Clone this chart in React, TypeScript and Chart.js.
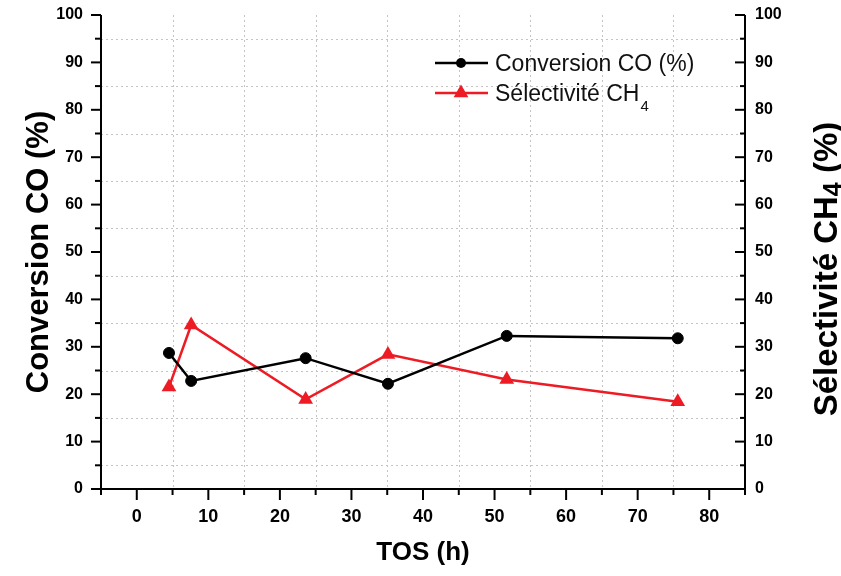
import React, { useEffect, useRef } from "react";
import { Chart, registerables } from "chart.js";

Chart.register(...registerables);

// ---- data ----
const tosHours = [4.5, 7.6, 23.6, 35.1, 51.7, 75.6];
const conversionCO = [28.7, 22.8, 27.6, 22.2, 32.3, 31.8];
const selectiviteCH4 = [21.5, 34.6, 18.9, 28.4, 23.1, 18.4];

const xTickValues = [0, 10, 20, 30, 40, 50, 60, 70, 80];
const xMinorValues = [-5, 5, 15, 25, 35, 45, 55, 65, 75, 85];
const yTickValues = [0, 10, 20, 30, 40, 50, 60, 70, 80, 90, 100];
const yMinorValues = [5, 15, 25, 35, 45, 55, 65, 75, 85, 95];

const seriesNames = ["Conversion CO (%)", "Sélectivité CH"];
const subscript = "4";
const xTitle = "TOS (h)";
const yTitle = "Conversion CO (%)";
const y1TitleMain = "Sélectivité CH";
const y1TitleEnd = " (%)";

const RED = "#ed1c24";
const BLACK = "#000000";
const FONT = "'Liberation Sans', Arial, Helvetica, sans-serif";

const framePlugin = {
  id: "frame",
  beforeDatasetsDraw(chart: any) {
    const { ctx, chartArea: a, scales } = chart;
    const x = scales.x;
    const y = scales.y;
    ctx.save();
    ctx.strokeStyle = "#c4c4c4";
    ctx.lineWidth = 1;
    ctx.setLineDash([2, 3]);
    xMinorValues.forEach((v) => {
      if (v <= x.min || v >= x.max) return;
      const px = Math.round(x.getPixelForValue(v)) + 0.5;
      ctx.beginPath();
      ctx.moveTo(px, a.top);
      ctx.lineTo(px, a.bottom);
      ctx.stroke();
    });
    yMinorValues.forEach((v) => {
      const py = Math.round(y.getPixelForValue(v)) + 0.5;
      ctx.beginPath();
      ctx.moveTo(a.left, py);
      ctx.lineTo(a.right, py);
      ctx.stroke();
    });
    ctx.restore();
  },
  afterDraw(chart: any) {
    const { ctx, chartArea: a, scales } = chart;
    const x = scales.x;
    const y = scales.y;
    const y1 = scales.y1;
    ctx.save();
    ctx.strokeStyle = BLACK;
    ctx.lineWidth = 2;
    ctx.setLineDash([]);
    const seg = (x1: number, yA: number, x2: number, yB: number) => {
      ctx.beginPath();
      ctx.moveTo(x1, yA);
      ctx.lineTo(x2, yB);
      ctx.stroke();
    };
    // axis lines
    seg(a.left, a.top, a.left, a.bottom);
    seg(a.right, a.top, a.right, a.bottom);
    seg(a.left, a.bottom, a.right, a.bottom);
    // x ticks
    xTickValues.forEach((v) => {
      const px = x.getPixelForValue(v);
      seg(px, a.bottom, px, a.bottom + 11);
    });
    xMinorValues.forEach((v) => {
      const px = x.getPixelForValue(v);
      seg(px, a.bottom, px, a.bottom + 6);
    });
    // y ticks left (outward), right (inward)
    yTickValues.forEach((v) => {
      const py = y.getPixelForValue(v);
      seg(a.left - 10, py, a.left, py);
      const py1 = y1.getPixelForValue(v);
      seg(a.right - 10, py1, a.right, py1);
    });
    yMinorValues.forEach((v) => {
      const py = y.getPixelForValue(v);
      seg(a.left - 6, py, a.left, py);
      const py1 = y1.getPixelForValue(v);
      seg(a.right - 5, py1, a.right, py1);
    });

    // legend
    const lx = a.left + 334;
    const ly1 = a.top + 48;
    const ly2 = a.top + 78;
    ctx.lineWidth = 2.5;
    ctx.strokeStyle = BLACK;
    seg(lx, ly1, lx + 53, ly1);
    ctx.fillStyle = BLACK;
    ctx.beginPath();
    ctx.arc(lx + 26, ly1, 5, 0, Math.PI * 2);
    ctx.fill();
    ctx.strokeStyle = RED;
    seg(lx, ly2, lx + 53, ly2);
    ctx.fillStyle = RED;
    const r = 8.5;
    ctx.beginPath();
    ctx.moveTo(lx + 26, ly2 - r);
    ctx.lineTo(lx + 26 + r * 0.866, ly2 + r * 0.5);
    ctx.lineTo(lx + 26 - r * 0.866, ly2 + r * 0.5);
    ctx.closePath();
    ctx.fill();

    ctx.fillStyle = "#111";
    ctx.font = `23px ${FONT}`;
    ctx.textAlign = "left";
    ctx.textBaseline = "alphabetic";
    ctx.fillText(seriesNames[0], lx + 60, ly1 + 8);
    ctx.fillText(seriesNames[1], lx + 60, ly2 + 8);
    const w2 = ctx.measureText(seriesNames[1]).width;
    ctx.font = `15px ${FONT}`;
    ctx.fillText(subscript, lx + 60 + w2 + 1, ly2 + 18);

    // right axis title (with subscript)
    const cx = a.right + 83;
    const cy = (a.top + a.bottom) / 2 + 17;
    ctx.translate(cx, cy);
    ctx.rotate(-Math.PI / 2);
    ctx.fillStyle = BLACK;
    ctx.textBaseline = "middle";
    ctx.font = `bold 33px ${FONT}`;
    const wMain = ctx.measureText(y1TitleMain).width;
    const wEnd = ctx.measureText(y1TitleEnd).width;
    ctx.font = `bold 25px ${FONT}`;
    const wSub = ctx.measureText(subscript).width;
    const total = wMain + wSub + wEnd;
    let tx = -total / 2;
    ctx.font = `bold 33px ${FONT}`;
    ctx.fillText(y1TitleMain, tx, 0);
    tx += wMain;
    ctx.font = `bold 25px ${FONT}`;
    ctx.fillText(subscript, tx, 6);
    tx += wSub;
    ctx.font = `bold 33px ${FONT}`;
    ctx.fillText(y1TitleEnd, tx, 0);
    ctx.restore();
  },
};

export default function App() {
  const ref = useRef<HTMLCanvasElement | null>(null);

  useEffect(() => {
    if (!ref.current) return;
    const chart = new Chart(ref.current, {
      type: "line",
      data: {
        datasets: [
          {
            label: seriesNames[0],
            data: tosHours.map((t, i) => ({ x: t, y: conversionCO[i] })),
            borderColor: BLACK,
            backgroundColor: BLACK,
            borderWidth: 2.5,
            pointStyle: "circle",
            pointRadius: 5.5,
            pointBorderWidth: 1,
            yAxisID: "y",
            tension: 0,
          },
          {
            label: seriesNames[1] + subscript,
            data: tosHours.map((t, i) => ({ x: t, y: selectiviteCH4[i] })),
            borderColor: RED,
            backgroundColor: RED,
            borderWidth: 2.5,
            pointStyle: "triangle",
            pointRadius: 8.5,
            pointBorderWidth: 0,
            yAxisID: "y1",
            tension: 0,
          },
        ],
      },
      options: {
        animation: false,
        responsive: false,
        maintainAspectRatio: false,
        layout: { padding: { top: 15, left: 0, right: 0, bottom: 0 } },
        plugins: {
          legend: { display: false },
          tooltip: { enabled: false },
        },
        scales: {
          x: {
            type: "linear",
            position: "bottom",
            min: -5,
            max: 85,
            afterBuildTicks: (s: any) => {
              s.ticks = xTickValues.map((v) => ({ value: v }));
            },
            afterFit: (s: any) => {
              s.height = 87;
              s.paddingLeft = 0;
              s.paddingRight = 0;
            },
            grid: { display: false, drawTicks: false, tickLength: 0 },
            border: { display: false },
            ticks: {
              autoSkip: false,
              maxRotation: 0,
              padding: 17,
              color: BLACK,
              font: { family: FONT, size: 18, weight: "bold" },
            },
            title: {
              display: true,
              text: xTitle,
              color: BLACK,
              font: { family: FONT, size: 26, weight: "bold" },
              padding: { top: 0, bottom: 8 },
            },
          },
          y: {
            type: "linear",
            position: "left",
            min: 0,
            max: 100,
            afterBuildTicks: (s: any) => {
              s.ticks = yTickValues.map((v) => ({ value: v }));
            },
            afterFit: (s: any) => {
              s.width = 101;
              s.paddingTop = 0;
              s.paddingBottom = 0;
            },
            grid: { display: false, drawTicks: false, tickLength: 0 },
            border: { display: false },
            ticks: {
              autoSkip: false,
              padding: 18,
              color: BLACK,
              font: { family: FONT, size: 16, weight: "bold" },
            },
            title: {
              display: true,
              text: yTitle,
              color: BLACK,
              font: { family: FONT, size: 31, weight: "bold" },
              padding: { top: 21, bottom: 0 },
            },
          },
          y1: {
            type: "linear",
            position: "right",
            min: 0,
            max: 100,
            afterBuildTicks: (s: any) => {
              s.ticks = yTickValues.map((v) => ({ value: v }));
            },
            afterFit: (s: any) => {
              s.width = 96;
              s.paddingTop = 0;
              s.paddingBottom = 0;
            },
            grid: { display: false, drawTicks: false, tickLength: 0 },
            border: { display: false },
            ticks: {
              autoSkip: false,
              padding: 10,
              color: BLACK,
              font: { family: FONT, size: 16, weight: "bold" },
            },
          },
        },
      },
      plugins: [framePlugin],
    } as any);
    return () => chart.destroy();
  }, []);

  return (
    <div style={{ position: "fixed", left: 0, top: 0, width: 841, height: 576, background: "#fff" }}>
      <canvas ref={ref} width={841} height={576} style={{ width: 841, height: 576, display: "block" }} />
    </div>
  );
}
